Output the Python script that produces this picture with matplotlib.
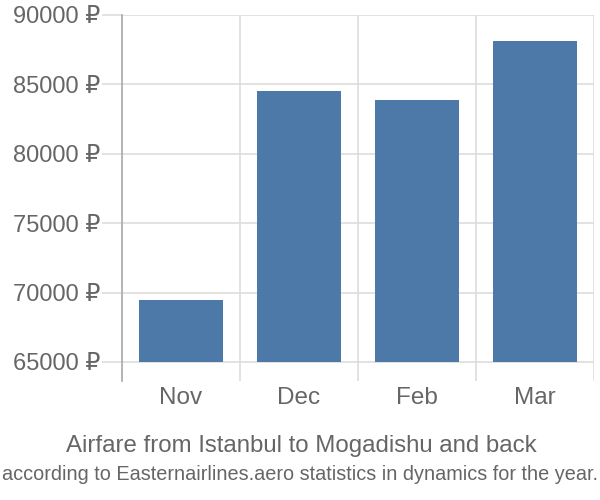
import matplotlib.pyplot as plt
from matplotlib.ticker import FixedLocator

# data
months = ['Nov', 'Dec', 'Feb', 'Mar']
prices = [69450, 84500, 83850, 88100]
y_ticks = [65000, 70000, 75000, 80000, 85000, 90000]

title = 'Airfare from Istanbul to Mogadishu and back'
subtitle = 'according to Easternairlines.aero statistics in dynamics for the year.'

bar_color = '#4d79a8'
text_color = '#666666'
grid_color = '#dddddd'
fonts = ['Liberation Sans', 'DejaVu Sans']

plt.rcParams['font.family'] = fonts

fig = plt.figure(figsize=(6, 5), dpi=100)
ax = fig.add_axes([122 / 600, 1 - 381 / 500, 472 / 600, 366 / 500])

x = list(range(len(months)))
base = y_ticks[0]
ax.bar(x, [p - base for p in prices], bottom=base, width=0.72,
       color=bar_color, zorder=3)

ax.set_xlim(-0.5, len(months) - 0.5)
ax.set_ylim(63630, 90000)

# y axis
ax.set_yticks(y_ticks)
ax.set_yticklabels([f'{v} ₽' for v in y_ticks])
ax.yaxis.grid(True, color=grid_color, linewidth=1.2, zorder=0)
ax.tick_params(axis='y', length=14.5, width=1.2, color=grid_color,
               pad=1, labelsize=17, labelcolor=text_color)

# x axis: labels at centers, grid at category boundaries
ax.set_xticks(x)
ax.set_xticklabels(months)
ax.xaxis.set_minor_locator(FixedLocator([i - 0.5 for i in range(len(months) + 1)]))
ax.xaxis.grid(True, which='minor', color=grid_color, linewidth=1.2, zorder=0)
ax.tick_params(axis='x', which='major', length=0, pad=4, labelsize=17.5,
               labelcolor=text_color)
ax.tick_params(axis='x', which='minor', length=0)

for side in ['top', 'right', 'bottom']:
    ax.spines[side].set_visible(False)
ax.spines['left'].set_color('#aaaaaa')
ax.spines['left'].set_linewidth(1.2)
ax.spines['left'].set_zorder(4)

fig.text(0.502, 1 - 446 / 500, title, ha='center', va='center',
         fontsize=17.3, color=text_color)
fig.text(0.5, 1 - 475 / 500, subtitle, ha='center', va='center',
         fontsize=14.3, color=text_color)

fig.savefig('out.png', dpi=100)
